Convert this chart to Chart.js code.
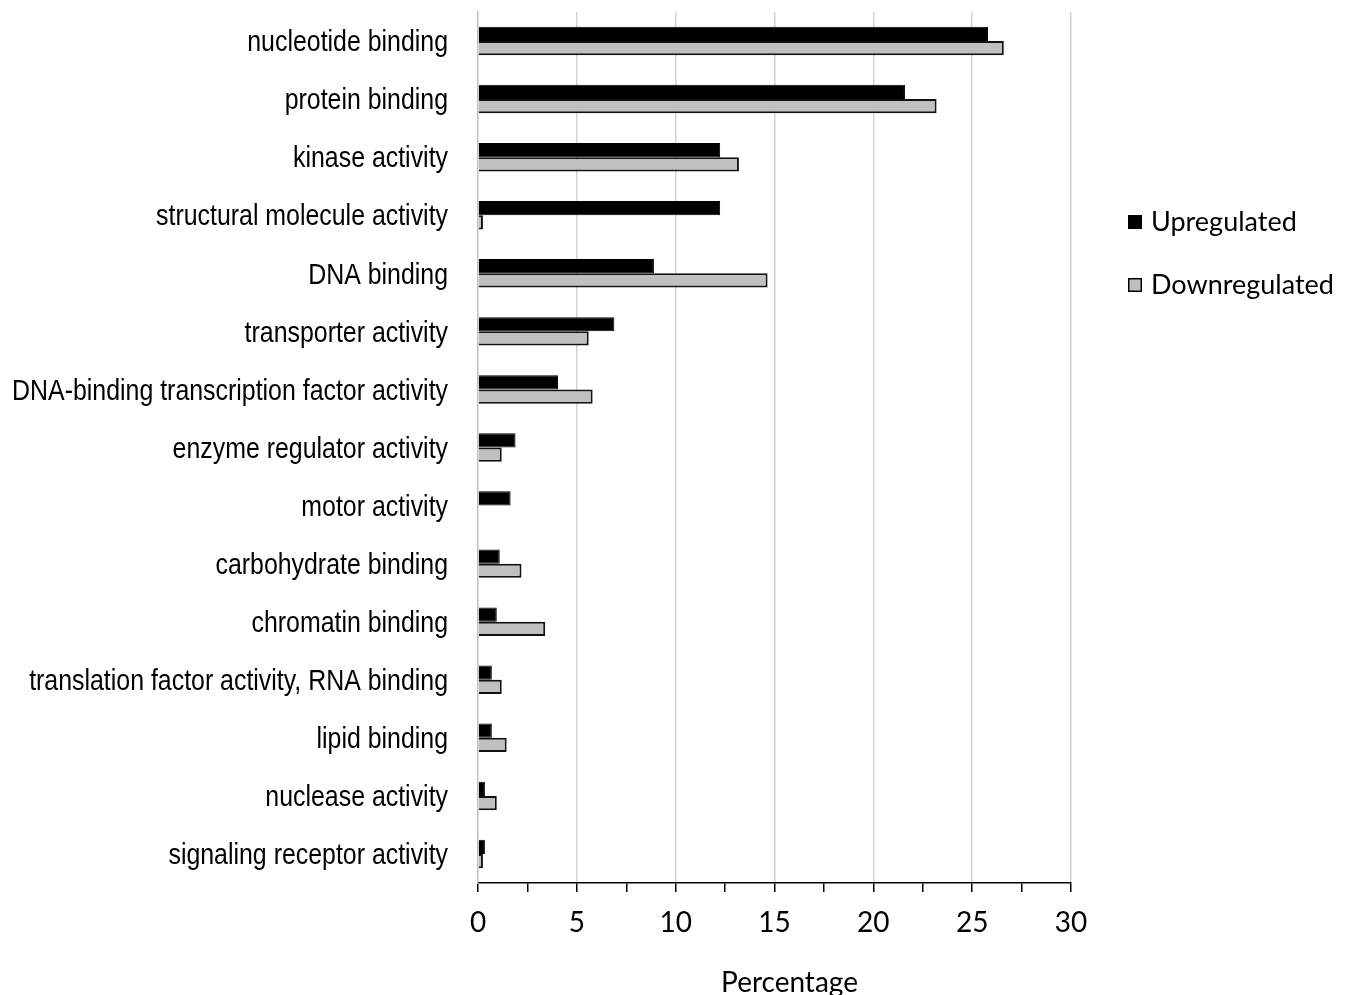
<!DOCTYPE html>
<html>
<head>
<meta charset="utf-8">
<script src="https://cdn.jsdelivr.net/npm/chart.js@4.4.0/dist/chart.umd.min.js"></script>
<style>
  html, body { margin: 0; padding: 0; background: #ffffff; }
  #wrap { width: 1345px; height: 995px; }
</style>
</head>
<body>
<div id="wrap"><canvas id="c" width="1345" height="995"></canvas></div>
<script>
const categories = [
  "nucleotide binding",
  "protein binding",
  "kinase activity",
  "structural molecule activity",
  "DNA binding",
  "transporter activity",
  "DNA-binding transcription factor activity",
  "enzyme regulator activity",
  "motor activity",
  "carbohydrate binding",
  "chromatin binding",
  "translation factor activity, RNA binding",
  "lipid binding",
  "nuclease activity",
  "signaling receptor activity"
];
const upregulated =   [25.8, 21.6, 12.25, 12.25, 8.9, 6.9, 4.05, 1.9, 1.65, 1.1, 0.95, 0.7, 0.7, 0.35, 0.35];
const downregulated = [26.6, 23.2, 13.2, 0.25, 14.65, 5.6, 5.8, 1.2, 0, 2.2, 3.4, 1.2, 1.45, 0.95, 0.25];
const seriesNames = ["Upregulated", "Downregulated"];
const xTicks = [0, 5, 10, 15, 20, 25, 30];
const axisTitle = "Percentage";

// Category labels drawn in a narrow (horizontally condensed) face, like the original
const narrowLabels = {
  id: 'narrowLabels',
  afterDraw(chart) {
    const ctx = chart.ctx;
    const y = chart.scales.y;
    const sx = 0.83;
    ctx.save();
    ctx.font = '30px "Liberation Sans", Arimo, Arial, sans-serif';
    ctx.fillStyle = '#000';
    ctx.textAlign = 'right';
    ctx.textBaseline = 'middle';
    chart.data.labels.forEach((lab, i) => {
      const py = y.getPixelForTick(i) + 2;
      ctx.save();
      ctx.translate(448, py);
      ctx.scale(sx, 1);
      ctx.fillText(lab, 0, 0);
      ctx.restore();
    });
    // axis title, centred where the original puts it
    const x = chart.scales.x;
    ctx.font = '28px Lato, "Open Sans", sans-serif';
    ctx.textAlign = 'center';
    ctx.textBaseline = 'alphabetic';
    ctx.fillText(axisTitle, (x.left + x.right) / 2 + 15, 992);
    ctx.restore();
  }
};

const legendPlugin = {
  id: 'sideLegend',
  afterDraw(chart) {
    const ctx = chart.ctx;
    const items = chart.data.datasets;
    const x0 = 1128, ys = [222, 285], box = 14;
    ctx.save();
    items.forEach((ds, i) => {
      const y = ys[i];
      ctx.fillStyle = ds.backgroundColor;
      ctx.fillRect(x0, y - box / 2, box, box);
      ctx.lineWidth = 1.5;
      ctx.strokeStyle = '#000';
      ctx.strokeRect(x0 + 0.75, y - box / 2 + 0.75, box - 1.5, box - 1.5);
      ctx.fillStyle = '#000';
      ctx.font = '27px Lato, "Open Sans", sans-serif';
      ctx.textBaseline = 'middle';
      ctx.textAlign = 'left';
      ctx.fillText(ds.label, x0 + 23, y);
    });
    ctx.restore();
  }
};

new Chart(document.getElementById('c'), {
  type: 'bar',
  data: {
    labels: categories,
    datasets: [
      { label: seriesNames[0], data: upregulated, backgroundColor: '#000000', borderColor: '#000000', borderWidth: 1 },
      { label: seriesNames[1], data: downregulated, backgroundColor: '#c0c0c0', borderColor: '#111111', borderWidth: 2 }
    ]
  },
  options: {
    indexAxis: 'y',
    responsive: false,
    animation: false,
    devicePixelRatio: 1,
    layout: { padding: { left: 12, top: 12, right: 274, bottom: 0 } },
    datasets: { bar: { barPercentage: 1.0, categoryPercentage: 0.49 } },
    plugins: { legend: { display: false }, tooltip: { enabled: false } },
    scales: {
      x: {
        type: 'linear',
        min: 0, max: 30,
        afterBuildTicks(scale) {
          const t = [];
          for (let v = 0; v <= 30; v += 2.5) t.push({ value: v });
          scale.ticks = t;
        },
        afterFit(scale) { scale.height = 112; },
        ticks: {
          padding: 14,
          color: '#000',
          font: { family: 'Lato, "Open Sans", sans-serif', size: 28 },
          autoSkip: false,
          maxRotation: 0,
          callback: (v) => xTicks.includes(v) ? String(v) : ''
        },
        grid: {
          color: (c) => (c.tick && xTicks.includes(c.tick.value) && c.tick.value !== 0) ? '#d4d4d4' : 'rgba(0,0,0,0)',
          lineWidth: 1.5,
          tickColor: '#000',
          tickLength: 9,
          drawOnChartArea: true
        },
        border: { display: true, color: '#000', width: 1.5 },
        title: { display: false }
      },
      y: {
        type: 'category',
        afterFit(scale) { scale.width = 466; },
        ticks: { display: false },
        grid: { display: false, drawTicks: false },
        border: { display: true, color: '#bfbfbf', width: 1.5 }
      }
    }
  },
  plugins: [narrowLabels, legendPlugin]
});
</script>
</body>
</html>
